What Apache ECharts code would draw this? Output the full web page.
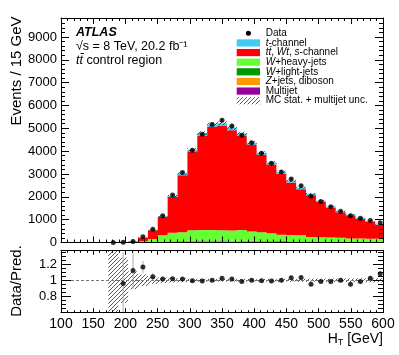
<!DOCTYPE html>
<html>
<head>
<meta charset="utf-8">
<title>HT - ttbar control region</title>
<script src="https://cdn.jsdelivr.net/npm/echarts@6/dist/echarts.min.js"></script>
<style>
  html, body { margin: 0; padding: 0; background: #fff; }
  #main { width: 399px; height: 355px; }
</style>
</head>
<body>
<div id="main"></div>
<script>
// binning (GeV)
var binLow = 173.5, binWidth = 15.35, nBins = 28;
var xMin = 100, xMax = 600, xStep = 50;
var yMax = 9830, yStep = 1000;
var rMin = 0.6, rMax = 1.37, rStep = 0.2;
var yLabels = [0, 1000, 2000, 3000, 4000, 5000, 6000, 7000, 8000, 9000];
var rLabels = [0.8, 1, 1.2];

// data
var dataCounts = [5, 10, 45, 250, 580, 1170, 2080, 3070, 4040, 4740, 5170, 5350, 5100, 4700,
                  4370, 3910, 3470, 3090, 2780, 2490, 2020, 1800, 1560, 1370, 1170, 1065, 960, 860];
var dataErr = [3, 4, 9, 16, 24, 34, 46, 55, 64, 69, 72, 73, 71, 69,
               66, 63, 59, 56, 53, 50, 45, 42, 39, 37, 34, 33, 31, 29];

// predictions, bottom of the stack first
var multijet = [0, 0, 1, 5, 12, 20, 25, 30, 35, 40, 40, 40, 38, 36, 34, 32, 30, 28, 26, 24, 22, 20, 18, 16, 14, 12, 11, 10];
var zjets    = [0, 0, 1, 4, 8, 14, 18, 22, 25, 26, 26, 26, 25, 24, 23, 22, 21, 20, 19, 18, 17, 16, 15, 14, 13, 12, 11, 10];
var wlight   = [0, 0, 1, 3, 8, 12, 15, 18, 20, 20, 20, 20, 19, 18, 17, 16, 15, 14, 13, 12, 11, 10, 9, 8, 7, 6, 6, 5];
var wheavy   = [0, 2, 5, 48, 122, 274, 372, 380, 460, 464, 464, 454, 438, 472,
                406, 380, 334, 278, 272, 266, 190, 184, 178, 172, 146, 140, 137, 134];
var ttbar    = [3, 8, 31, 150, 390, 800, 1560, 2500, 3430, 4140, 4515, 4575, 4400, 4125,
                3800, 3395, 3020, 2675, 2300, 2015, 1830, 1545, 1310, 1114, 1008, 872, 740, 608];
var tchan    = [0, 0, 1, 5, 15, 30, 50, 70, 90, 100, 105, 105, 100, 95, 90, 85, 80, 75, 70, 65, 60, 55, 50, 46, 42, 38, 35, 32];

// relative MC stat. + multijet uncertainty
var mcUnc = [1.0, 0.28, 0.11, 0.07, 0.045, 0.035, 0.028, 0.024, 0.02, 0.018, 0.017, 0.017, 0.017, 0.017,
             0.017, 0.017, 0.018, 0.018, 0.018, 0.019, 0.02, 0.02, 0.021, 0.022, 0.023, 0.024, 0.025, 0.026];

// Data / Pred. (first bin is off scale)
var ratioVals = [null, 0.96, 1.12, 1.165, 1.045, 1.016, 1.02, 1.015, 0.995, 0.99, 1.0, 1.025, 1.015, 0.985,
                 1.0, 0.995, 0.99, 1.0, 1.03, 1.035, 0.95, 0.985, 0.985, 1.0, 0.95, 0.985, 1.025, 1.08];

var layers = [
  { name: 'Multijet', values: multijet, color: '#990099' },
  { name: 'Z+jets, diboson', values: zjets, color: '#ff9900' },
  { name: 'W+light-jets', values: wlight, color: '#009900' },
  { name: 'W+heavy-jets', values: wheavy, color: '#66ff33' },
  { name: 'ttbar, Wt, s-channel', values: ttbar, color: '#ff0000' },
  { name: 't-channel', values: tchan, color: '#3fcbf6' }
];

var FONT = '"Liberation Sans", Arial, Helvetica, sans-serif';

// layout of the two panels (px)
var padL = 61, padR = 16;
var mainTop = 18, mainBottom = 112.5;
var ratioTop = 250.3, ratioBottom = 42.3;
var H = 355;

function hatch() {
  var c = document.createElement('canvas');
  c.width = 4; c.height = 4;
  var g = c.getContext('2d');
  g.strokeStyle = '#444';
  g.lineWidth = 0.9;
  g.beginPath();
  g.moveTo(0, 4); g.lineTo(4, 0);
  g.moveTo(-1, 1); g.lineTo(1, -1);
  g.moveTo(3, 5); g.lineTo(5, 3);
  g.stroke();
  return { image: c, repeat: 'repeat' };
}
var hatchFill = hatch();

// bin edges and centers
var lo = [], hi = [], mid = [];
for (var i = 0; i < nBins; i++) {
  lo.push(binLow + i * binWidth);
  hi.push(binLow + (i + 1) * binWidth);
  mid.push(binLow + (i + 0.5) * binWidth);
}

// cumulative stack
var cum = [];
for (i = 0; i < nBins; i++) cum.push(0);
var stackSeries = layers.map(function (l, k) {
  var rows = [];
  for (var j = 0; j < nBins; j++) {
    rows.push([lo[j], hi[j], cum[j], cum[j] + l.values[j]]);
    cum[j] += l.values[j];
  }
  return {
    type: 'custom', name: l.name, xAxisIndex: 0, yAxisIndex: 0, z: 2 + k * 0.01,
    itemStyle: { color: l.color }, silent: true,
    encode: { x: [0, 1], y: [2, 3] },
    renderItem: layerItem, data: rows
  };
});
var total = cum;

function clampPt(p, cs) {
  return [Math.min(Math.max(p[0], cs.x), cs.x + cs.width),
          Math.min(Math.max(p[1], cs.y), cs.y + cs.height)];
}

// one step polygon per layer, so neighbouring bins don't leave seams
function layerItem(params, api) {
  if (params.dataIndexInside !== 0) return null;
  var cs = params.coordSys, top = [], bot = [];
  for (var j = 0; j < params.dataInsideLength; j++) {
    top.push(api.coord([api.value(0, j), api.value(3, j)]), api.coord([api.value(1, j), api.value(3, j)]));
    bot.push(api.coord([api.value(0, j), api.value(2, j)]), api.coord([api.value(1, j), api.value(2, j)]));
  }
  var pts = top.concat(bot.reverse()).map(function (p) { return clampPt(p, cs); });
  return { type: 'polygon', shape: { points: pts }, style: { fill: api.visual('color') } };
}

function bandItem(params, api) {
  var cs = params.coordSys;
  var a = api.coord([api.value(0), api.value(3)]);
  var b = api.coord([api.value(1), api.value(2)]);
  var shape = echarts.graphic.clipRectByRect(
    { x: a[0], y: a[1], width: b[0] - a[0], height: b[1] - a[1] },
    { x: cs.x, y: cs.y, width: cs.width, height: cs.height });
  return shape && { type: 'rect', shape: shape, style: { fill: hatchFill, stroke: null } };
}

function errItem(params, api) {
  var cs = params.coordSys;
  var a = clampPt(api.coord([api.value(0), api.value(1)]), cs);
  var b = clampPt(api.coord([api.value(0), api.value(2)]), cs);
  return { type: 'line', shape: { x1: a[0], y1: a[1], x2: b[0], y2: b[1] },
           style: { stroke: api.visual('color'), lineWidth: 1 } };
}

var mainBand = [], ratioBand = [], dataPts = [], dataBars = [], ratioPts = [], ratioBars = [];
for (i = 0; i < nBins; i++) {
  mainBand.push([lo[i], hi[i], total[i] * (1 - mcUnc[i]), total[i] * (1 + mcUnc[i])]);
  ratioBand.push([lo[i], hi[i], 1 - mcUnc[i], 1 + mcUnc[i]]);
  dataPts.push([mid[i], dataCounts[i]]);
  dataBars.push([mid[i], dataCounts[i] - dataErr[i], dataCounts[i] + dataErr[i]]);
  if (ratioVals[i] !== null) {
    var re = ratioVals[i] * dataErr[i] / dataCounts[i];
    ratioPts.push([mid[i], ratioVals[i]]);
    ratioBars.push([mid[i], ratioVals[i] - re, ratioVals[i] + re]);
  }
}

var black = '#000';
function xAxisDef(grid, pos, labels, major, minor) {
  return {
    type: 'value', gridIndex: grid, position: pos, min: xMin, max: xMax, interval: xStep, z: 10,
    axisLine: { show: true, onZero: false, lineStyle: { color: black, width: 1 } },
    axisTick: { show: true, inside: true, length: major, lineStyle: { color: black } },
    minorTick: { show: true, splitNumber: 5, length: minor, lineStyle: { color: black } },
    splitLine: { show: false },
    axisLabel: { show: labels, color: black, fontFamily: FONT, fontSize: 14, margin: 4,
                 showMinLabel: true, showMaxLabel: true, hideOverlap: false }
  };
}
function yAxisDef(grid, pos, min, max, step, labels, major, minor, nMinor, labelList) {
  return {
    type: 'value', gridIndex: grid, position: pos, min: min, max: max, interval: step, z: 10,
    axisLine: { show: true, onZero: false, lineStyle: { color: black, width: 1 } },
    axisTick: { show: true, inside: true, length: major, lineStyle: { color: black } },
    minorTick: { show: true, splitNumber: nMinor, length: minor, lineStyle: { color: black } },
    splitLine: { show: false },
    axisLabel: { show: labels, color: black, fontFamily: FONT, fontSize: 13, margin: 4,
                 showMinLabel: true, showMaxLabel: true, hideOverlap: false, customValues: labelList,
                 formatter: function (v) { return String(+v.toFixed(2)); } }
  };
}

// legend entries (rich text for the italic symbols)
var legendRows = [
  { text: 'Data', kind: 'dot' },
  { text: '{i|t}-channel', color: layers[5].color },
  { text: '{i|tt\u0304}, {i|Wt}, {i|s}-channel', color: layers[4].color },
  { text: '{i|W}+heavy-jets', color: layers[3].color },
  { text: '{i|W}+light-jets', color: layers[2].color },
  { text: '{i|Z}+jets, diboson', color: layers[1].color },
  { text: 'Multijet', color: layers[0].color },
  { text: 'MC stat. + multijet unc.', kind: 'hatch' }
];
var legX = 236.7, legY = 33.3, legDy = 9.63;
var graphics = [];
legendRows.forEach(function (r, k) {
  var y = legY + k * legDy;
  if (r.kind === 'dot') {
    graphics.push({ type: 'circle', shape: { cx: legX + 11.7, cy: y, r: 2.5 }, style: { fill: black } });
  } else {
    graphics.push({ type: 'rect', shape: { x: legX, y: y - 3.6, width: 23.3, height: 7.2 },
                    style: { fill: r.kind === 'hatch' ? hatchFill : r.color } });
  }
  graphics.push({ type: 'text', x: legX + 29, y: y,
    style: { text: r.text, fill: black, font: '10px ' + FONT, verticalAlign: 'middle',
             rich: { i: { fontStyle: 'italic', fontSize: 10, fontFamily: FONT } } } });
});

// ATLAS label block
graphics.push(
  { type: 'text', x: 76, y: 32.3, style: { text: 'ATLAS', fill: black, font: 'italic bold 12.5px ' + FONT, verticalAlign: 'middle' } },
  { type: 'text', x: 76, y: 46.7, style: { text: '\u221As = 8 TeV, 20.2 fb\u207B\u00B9', fill: black, font: '12.5px ' + FONT, verticalAlign: 'middle' } },
  { type: 'text', x: 76, y: 60.3, style: { text: '{i|tt\u0304} control region', fill: black, font: '12.5px ' + FONT, verticalAlign: 'middle',
      rich: { i: { fontStyle: 'italic', fontSize: 12.5, fontFamily: FONT } } } },
  // axis titles
  { type: 'text', x: 17, y: 71, rotation: Math.PI / 2,
    style: { text: 'Events / 15 GeV', fill: black, font: '15px ' + FONT, align: 'center', verticalAlign: 'middle' } },
  { type: 'text', x: 17, y: 281, rotation: Math.PI / 2,
    style: { text: 'Data/Pred.', fill: black, font: '15px ' + FONT, align: 'center', verticalAlign: 'middle' } },
  { type: 'text', x: 383, y: 339,
    style: { text: '{n|H}{s|T}{n| [GeV]}', fill: black, align: 'right', verticalAlign: 'middle',
             rich: { n: { fontSize: 14, fontFamily: FONT, lineHeight: 16 },
                     s: { fontSize: 9, fontFamily: FONT, verticalAlign: 'bottom', lineHeight: 16, padding: [4, 0, 0, 0] } } } }
);

// ratio tick labels on their own layer (ECharts 6 keeps dropping the 0.8 one)
var rPixTop = ratioTop, rPixBot = H - ratioBottom;
var rLabelTexts = rLabels.map(function (v) { return String(v); });
graphics.push({
  type: 'group', zlevel: 1,
  children: rLabels.map(function (v, k) {
    var y = rPixBot - (v - rMin) / (rMax - rMin) * (rPixBot - rPixTop);
    return { type: 'text', x: padL - 4, y: y, zlevel: 1,
             style: { text: rLabelTexts[k], fill: black, font: '13px ' + FONT, align: 'right', verticalAlign: 'middle' } };
  })
});

var option = {
  animation: false,
  backgroundColor: '#fff',
  textStyle: { fontFamily: FONT },
  grid: [
    { left: padL, right: padR, top: mainTop, bottom: mainBottom, show: false },
    { left: padL, right: padR, top: ratioTop, bottom: ratioBottom, show: false }
  ],
  xAxis: [
    xAxisDef(0, 'bottom', false, 6, 3),
    xAxisDef(0, 'top', false, 6, 3),
    xAxisDef(1, 'bottom', true, 4.5, 2.5),
    xAxisDef(1, 'top', false, 4.5, 2.5)
  ],
  yAxis: [
    yAxisDef(0, 'left', 0, yMax, yStep, true, 8, 4, 5, yLabels),
    yAxisDef(0, 'right', 0, yMax, yStep, false, 8, 4, 5, yLabels),
    yAxisDef(1, 'left', rMin, rMax, rStep, false, 10, 5, 4, rLabels),
    yAxisDef(1, 'right', rMin, rMax, rStep, false, 10, 5, 4, rLabels)
  ],
  graphic: graphics,
  series: stackSeries.concat([
    { type: 'custom', name: 'unc', xAxisIndex: 0, yAxisIndex: 0, z: 3, silent: true,
      encode: { x: [0, 1], y: [2, 3] }, renderItem: bandItem, data: mainBand },
    { type: 'custom', name: 'dataErr', xAxisIndex: 0, yAxisIndex: 0, z: 4, silent: true,
      itemStyle: { color: black }, encode: { x: 0, y: [1, 2] }, renderItem: errItem, data: dataBars },
    { type: 'scatter', name: 'Data', xAxisIndex: 0, yAxisIndex: 0, z: 5, silent: true,
      symbolSize: 5, itemStyle: { color: black }, data: dataPts },
    { type: 'custom', name: 'ratioUnc', xAxisIndex: 2, yAxisIndex: 2, z: 3, silent: true,
      encode: { x: [0, 1], y: [2, 3] }, renderItem: bandItem, data: ratioBand },
    { type: 'custom', name: 'ratioErr', xAxisIndex: 2, yAxisIndex: 2, z: 4, silent: true,
      itemStyle: { color: '#aaaaaa' }, encode: { x: 0, y: [1, 2] }, renderItem: errItem, data: ratioBars },
    { type: 'scatter', name: 'ratio', xAxisIndex: 2, yAxisIndex: 2, z: 5, silent: true,
      symbolSize: 5, itemStyle: { color: black }, data: ratioPts,
      markLine: { silent: true, symbol: 'none', label: { show: false },
                  lineStyle: { color: '#777', type: [3, 2], width: 1 },
                  data: [{ yAxis: 1 }] } }
  ])
};

var chart = echarts.init(document.getElementById('main'));
chart.setOption(option);
</script>
</body>
</html>
